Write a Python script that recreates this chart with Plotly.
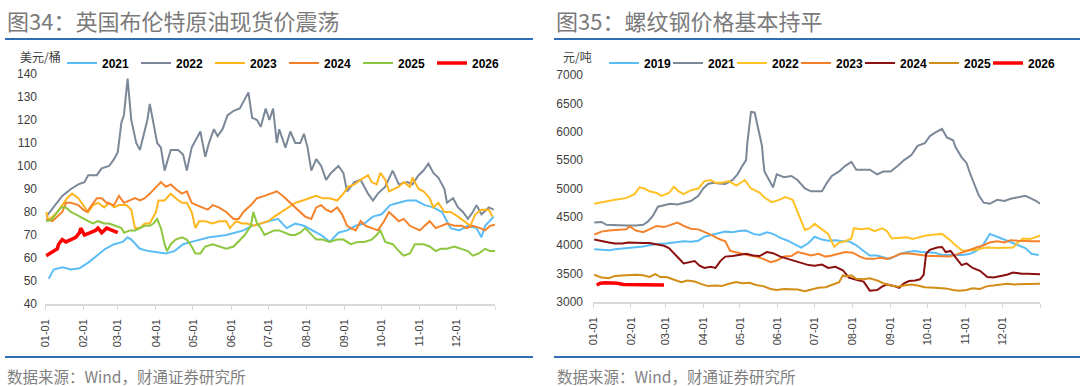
import plotly.graph_objects as go

W, H = 1080, 386

# ---------------- data ----------------
MONTH_TICKS = [0, 31, 59, 90, 120, 151, 181, 212, 243, 273, 304, 334, 365]
MONTH_LABELS = ["01-01", "02-01", "03-01", "04-01", "05-01", "06-01", "07-01",
                "08-01", "09-01", "10-01", "11-01", "12-01", ""]

# Brent spot, USD/bbl: (day of year, value)
BRENT_2021 = [(3,51),(7,55),(14,56),(21,55),(28,55.5),(35,58),(42,61),(49,64),(56,66),(63,67),(67,69),(70,68),
              (77,64),(84,63),(91,62.5),(98,62),(105,63),(112,66),(119,67),(126,68),(133,69),(140,69.5),(147,70),
              (154,71),(161,72),(168,74),(175,75),(182,76),(189,77),(196,73),(203,75),(210,74),(217,72),(224,70),
              (231,67),(238,71),(245,72),(252,74),(259,75),(266,78),(273,79),(280,83),(287,84),(294,85),(301,85),
              (308,83),(315,82),(322,80),(329,73),(336,72),(343,74),(350,73),(354,69),(357,74),(364,78)]
BRENT_2022 = [(1,78),(7,82),(14,87),(21,90),(27,92),(32,93),(35,96),(42,96),(46,99),(52,100),(56,103),(59,106),
              (62,119),(64,122),(67,138),(70,120),(74,110),(77,107),(80,114),(83,120),(85,127),(88,118),(91,110),
              (94,108),(97,98),(102,107),(108,107),(112,105),(115,98),(119,108),(126,115),(130,104),(133,110),
              (137,116),(140,113),(144,116),(148,122),(153,124),(158,125),(161,128),(165,132),(168,121),(172,120),
              (175,117),(179,125),(182,120),(185,125),(188,110),(190,116),(195,108),(199,115),(203,110),(207,110),
              (210,114),(213,108),(216,98),(220,103),(224,100),(228,94),(232,97),(238,100),(242,97),(245,89),
              (251,93),(256,94),(262,88),(266,85),(270,88),(276,91),(282,98),(287,92),(294,93),(298,92),(303,96),
              (307,98),(311,101),(315,97),(319,95),(324,90),(326,84),(331,86),(335,82),(339,80),(343,77),(347,80),
              (350,83),(354,79),(360,82),(364,81)]
BRENT_2023 = [(1,80),(3,76),(4,77),(10,80),(14,83),(18,86),(22,88),(27,86),(31,83),(35,80),(39,83),(43,84),(48,82),
              (52,84),(56,82),(60,83),(66,83),(70,81),(73,73),(77,73),(81,75),(85,75),(90,80),(92,85),(97,85),
              (102,88),(106,86),(111,84),(115,84),(119,80),(122,73),(125,76),(130,76),(136,75),(141,76),(147,76),
              (150,73),(155,76),(160,75),(164,75),(169,74),(175,75),(181,76),(186,78),(192,80),(197,82),(203,84),
              (209,85),(214,86),(220,87),(225,86),(231,86),(237,85),(242,88),(246,91),(251,92),(256,94),(262,96),
              (265,93),(269,92),(272,97),(276,94),(279,89),(283,90),(287,91),(291,93),(296,91),(298,95),(303,90),
              (307,89),(312,86),(315,82),(319,84),(324,80),(329,80),(335,78),(340,76),(345,74),(349,79),(354,81),
              (360,81),(363,78)]
BRENT_2024 = [(1,77),(6,76),(10,78),(14,80),(17,84),(21,84),(27,83),(31,81),(34,80),(38,83),(42,86),(46,86),(50,84),
              (56,83),(60,87),(64,84),(69,85),(73,86),(77,85),(81,86),(85,88),(90,91),(94,93),(98,91),(102,92),
              (106,90),(111,88),(115,89),(119,84),(123,83),(127,82),(132,81),(136,83),(141,82),(147,80),(153,77),
              (157,77),(161,80),(167,83),(172,86),(178,87),(183,88),(188,89),(193,87),(199,84),(203,82),(207,80),
              (211,78),(216,77),(220,82),(224,83),(228,81),(232,80),(237,82),(241,79),(245,74),(248,73),(252,72),
              (256,76),(260,74),(265,73),(270,72),(275,76),(279,80),(283,78),(287,76),(291,77),(296,74),(300,73),
              (304,72),(308,74),(312,76),(317,73),(321,74),(326,75),(332,74),(338,74),(342,73),(347,74),(353,73),
              (357,72),(361,74),(365,74.5)]
BRENT_2025 = [(1,76),(6,77),(10,80),(13,82),(17,82),(21,80),(25,79),(31,77),(35,76),(39,75),(43,76),(48,75),(52,75),
              (57,74),(62,73),(64,71),(69,72),(73,72),(77,73),(81,74),(85,74),(88,75),(91,77),(94,73),(97,66),
              (99,63),(102,66),(106,68),(111,69),(115,68),(119,65),(122,62),(126,62),(130,65),(136,66),(141,65),
              (147,64),(153,65),(158,68),(162,70),(167,74),(169,80),(172,75),(175,73),(178,70),(182,71),(186,72),
              (190,72),(195,71),(199,70),(203,70),(207,71),(211,73),(216,70),(220,68),(225,68),(231,67),(237,68),
              (242,68),(248,66),(254,67),(259,67),(265,68),(269,70),(272,72),(276,67),(282,66),(287,63),(291,61),
              (296,62),(300,66),(303,66),(307,66),(312,65),(317,63),(321,64),(326,64),(332,65),(338,64),(343,63),
              (347,61),(352,62),(357,64),(361,63),(365,63)]
BRENT_2026 = [(1,61),(4,62),(7,63),(10,64),(11,66),(14,68),(17,67),(21,68),(25,69),(28,71),(29,73),(32,70),(36,71),
              (41,72),(43,73),(46,71),(50,73),(55,72),(59,71)]

# Rebar price, CNY/t: (day of year, value)
STEEL_2019 = [(1,3930),(7,3920),(13,3910),(18,3930),(27,3950),(35,3960),(41,3980),(46,4000),(52,4020),(60,4030),
              (69,4050),(74,4070),(80,4060),(86,4080),(91,4150),(97,4180),(103,4220),(108,4240),(114,4230),
              (119,4250),(125,4260),(131,4200),(136,4180),(142,4230),(147,4200),(153,4130),(159,4080),(164,4020),
              (170,3960),(176,4040),(181,4150),(187,4100),(192,4080),(198,4090),(204,4070),(209,4070),(215,4000),
              (221,3900),(226,3820),(232,3820),(237,3790),(242,3760),(246,3800),(251,3850),(257,3880),(263,3900),
              (268,3880),(274,3880),(279,3870),(285,3830),(291,3830),(296,3820),(302,3830),(308,3850),(313,3900),
              (319,4020),(322,4140),(324,4200),(330,4150),(336,4100),(341,4050),(347,4000),(353,3950),(358,3850),
              (364,3830)]
STEEL_2021 = [(1,4400),(7,4410),(11,4360),(18,4350),(27,4350),(35,4350),(41,4360),(45,4420),(49,4520),(53,4680),
              (58,4700),(63,4730),(69,4720),(74,4750),(80,4780),(86,4870),(90,5000),(94,5080),(98,5100),(103,5090),
              (108,5080),(114,5150),(118,5250),(122,5400),(125,5500),(126,5800),(129,6350),(132,6340),(135,6050),
              (138,5750),(139,5500),(140,5300),(145,5100),(147,5020),(150,5250),(156,5200),(162,5220),(167,5150),
              (173,5000),(178,4950),(184,4950),(187,4950),(191,5100),(195,5220),(201,5300),(206,5400),(211,5470),
              (215,5330),(221,5330),(226,5330),(232,5250),(237,5300),(243,5300),(249,5400),(254,5500),(260,5590),
              (265,5750),(271,5800),(275,5920),(279,5980),(285,6050),(289,5900),(294,5850),(296,5730),(301,5550),
              (305,5450),(308,5260),(312,5030),(315,4880),(319,4750),(324,4730),(330,4800),(336,4780),(341,4820),
              (347,4850),(353,4870),(358,4820),(362,4780),(365,4730)]
STEEL_2022 = [(1,4730),(10,4770),(18,4800),(27,4830),(34,4900),(38,5020),(42,5000),(46,4950),(52,4920),(56,4870),
              (62,4920),(66,5030),(70,4950),(74,4900),(80,4970),(86,5000),(91,5130),(96,5150),(100,5100),(105,5100),
              (111,5130),(117,5050),(124,5150),(129,5000),(136,4930),(140,4840),(146,4760),(152,4800),(157,4850),
              (163,4800),(169,4500),(173,4270),(177,4300),(181,4380),(187,4280),(192,4200),(197,3970),(201,4050),
              (206,4070),(211,4120),(213,4300),(219,4280),(225,4300),(230,4250),(236,4300),(240,4250),(244,4120),
              (250,4130),(256,4140),(261,4110),(267,4150),(272,4170),(279,4190),(285,4200),(291,4100),(296,4000),
              (302,3900),(308,3910),(313,3920),(319,3950),(323,3960),(330,3950),(337,3950),(343,3960),(347,4050),
              (351,4120),(357,4110),(360,4130),(365,4170)]
STEEL_2023 = [(1,4190),(7,4240),(13,4260),(21,4270),(27,4280),(30,4330),(35,4260),(41,4230),(46,4280),(52,4340),
              (58,4320),(63,4360),(69,4400),(74,4340),(80,4290),(86,4280),(91,4240),(97,4180),(103,4110),(108,4070),
              (112,3900),(117,3870),(122,3850),(128,3820),(133,3800),(139,3760),(145,3700),(150,3730),(156,3800),
              (162,3810),(167,3880),(173,3850),(178,3820),(184,3850),(190,3800),(195,3820),(201,3850),(206,3880),
              (212,3870),(218,3800),(223,3760),(229,3760),(235,3780),(240,3760),(246,3800),(251,3850),(257,3860),
              (263,3840),(268,3820),(274,3810),(279,3810),(285,3800),(291,3800),(296,3830),(302,3870),(308,3920),
              (313,3960),(319,4000),(324,4050),(330,4070),(336,4050),(341,4090),(347,4080),(353,4070),(358,4070),
              (365,4070)]
STEEL_2024 = [(1,4100),(7,4070),(13,4050),(18,4030),(24,4030),(29,4050),(35,4040),(41,4040),(46,4040),(52,4020),
              (58,3990),(62,3950),(66,3850),(70,3770),(74,3680),(79,3700),(83,3720),(87,3640),(91,3600),(96,3620),
              (100,3600),(104,3720),(108,3800),(114,3810),(119,3830),(125,3850),(131,3820),(136,3810),(142,3880),
              (147,3860),(153,3800),(159,3760),(164,3720),(170,3690),(176,3650),(181,3640),(187,3660),(192,3600),
              (198,3620),(204,3560),(209,3430),(215,3390),(221,3360),(226,3200),(232,3210),(236,3270),(240,3310),
              (246,3280),(250,3250),(254,3330),(258,3370),(263,3380),(267,3400),(270,3480),(272,3850),(275,3920),
              (281,3960),(285,3970),(288,3880),(292,3900),(296,3780),(301,3650),(305,3680),(310,3600),(316,3550),
              (322,3440),(327,3430),(333,3460),(338,3480),(343,3520),(350,3500),(355,3500),(360,3490),(365,3490)]
STEEL_2025 = [(1,3480),(7,3430),(13,3420),(18,3460),(27,3470),(35,3480),(41,3470),(46,3440),(51,3490),(55,3440),
              (60,3440),(66,3390),(72,3350),(77,3380),(83,3360),(88,3320),(94,3280),(100,3290),(105,3280),(111,3320),
              (117,3350),(122,3330),(128,3340),(133,3300),(139,3280),(145,3230),(150,3210),(156,3230),(162,3220),
              (167,3220),(173,3190),(178,3220),(184,3250),(190,3260),(195,3300),(201,3350),(204,3470),(206,3450),
              (211,3470),(215,3410),(221,3400),(226,3420),(232,3380),(237,3330),(243,3290),(249,3270),(254,3290),
              (260,3310),(265,3290),(271,3260),(279,3250),(288,3240),(294,3210),(299,3200),(305,3210),(310,3240),
              (316,3230),(322,3280),(327,3290),(333,3300),(338,3320),(344,3310),(350,3310),(355,3320),(360,3320),
              (365,3320)]
STEEL_2026 = [(3,3300),(6,3330),(10,3340),(15,3340),(20,3330),(25,3310),(31,3310),(38,3300),(46,3300),(58,3300)]

BRENT_NAMES = ["2021", "2022", "2023", "2024", "2025", "2026"]
BRENT_SERIES = [BRENT_2021, BRENT_2022, BRENT_2023, BRENT_2024, BRENT_2025, BRENT_2026]
BRENT_COLORS = ["#5BBDF5", "#7B8898", "#FFB61E", "#F5822A", "#8DC63F", "#FF0000"]

STEEL_NAMES = ["2019", "2021", "2022", "2023", "2024", "2025", "2026"]
STEEL_SERIES = [STEEL_2019, STEEL_2021, STEEL_2022, STEEL_2023, STEEL_2024, STEEL_2025, STEEL_2026]
STEEL_COLORS = ["#5BBDF5", "#7B8898", "#FFC125", "#F5822A", "#8B1010", "#D38D17", "#FF0000"]

TITLE_L = "图34：英国布伦特原油现货价震荡"
TITLE_R = "图35：螺纹钢价格基本持平"
UNIT_L = "美元/桶"
UNIT_R = "元/吨"
SOURCE = "数据来源：Wind，财通证券研究所"

# ---------------- figure ----------------
LATIN = "Liberation Sans, Arial, Noto Sans CJK SC, sans-serif"
CJK = "Noto Sans CJK SC, sans-serif"

fig = go.Figure()

def px_x(p):
    return p / W

def px_y(p):
    return 1 - p / H

for name, pts, col in zip(BRENT_NAMES, BRENT_SERIES, BRENT_COLORS):
    fig.add_trace(go.Scatter(
        x=[p[0] for p in pts], y=[p[1] for p in pts], mode="lines", name=name,
        line=dict(color=col, width=3.5 if name == "2026" else 2),
        xaxis="x", yaxis="y", legend="legend", hoverinfo="skip"))

for i, (name, pts, col) in enumerate(zip(STEEL_NAMES, STEEL_SERIES, STEEL_COLORS)):
    extra = {"legendwidth": 40} if i == len(STEEL_NAMES) - 1 else {}
    fig.add_trace(go.Scatter(
        x=[p[0] for p in pts], y=[p[1] for p in pts], mode="lines", name=name,
        line=dict(color=col, width=3.5 if name == "2026" else 2),
        xaxis="x2", yaxis="y2", legend="legend2", hoverinfo="skip", **extra))

xcommon = dict(
    range=[0, 365], tickmode="array", tickvals=MONTH_TICKS, ticktext=MONTH_LABELS,
    tickangle=-90, showgrid=False, zeroline=False, showline=True, linecolor="#D9D9D9",
    linewidth=1.5, ticks="outside", ticklen=4, tickcolor="#D9D9D9", tickwidth=1,
    tickfont=dict(family=LATIN, size=11, color="#404040"), ticklabelstandoff=5,
    fixedrange=True, automargin=False,
)
ycommon = dict(showgrid=False, zeroline=False, showline=False, ticks="",
               tickfont=dict(family=LATIN, size=12, color="#404040"), fixedrange=True,
               automargin=False)

fig.update_layout(
    width=W, height=H, margin=dict(l=0, r=0, t=0, b=0, autoexpand=False),
    paper_bgcolor="white", plot_bgcolor="white",
    xaxis=dict(domain=[px_x(45), px_x(495)], anchor="y", **xcommon),
    yaxis=dict(domain=[px_y(304), px_y(74)], anchor="x", range=[40, 140], dtick=10,
               ticklabelstandoff=7, **ycommon),
    xaxis2=dict(domain=[px_x(593), px_x(1040)], anchor="y2", **xcommon),
    yaxis2=dict(domain=[px_y(302), px_y(75)], anchor="x2", range=[3000, 7000], dtick=500,
                ticklabelstandoff=9, **ycommon),
    legend=dict(orientation="h", x=px_x(62), xanchor="left", y=px_y(63), yanchor="middle",
                font=dict(family=LATIN, size=12, color="#000000", weight="bold"),
                bgcolor="rgba(0,0,0,0)", entrywidth=29, entrywidthmode="pixels",
                itemwidth=30, tracegroupgap=0, itemclick=False, itemdoubleclick=False),
    legend2=dict(orientation="h", x=px_x(604), xanchor="left", y=px_y(63), yanchor="middle",
                 font=dict(family=LATIN, size=12, color="#000000", weight="bold"),
                 bgcolor="rgba(0,0,0,0)", entrywidth=19, entrywidthmode="pixels",
                 itemwidth=30, tracegroupgap=0, itemclick=False, itemdoubleclick=False),
    showlegend=True,
)

ann = [
    dict(text=TITLE_L, x=px_x(5), y=px_y(20), xanchor="left", yanchor="middle",
         font=dict(family=CJK, size=22, color="#7A7A7A")),
    dict(text=TITLE_R, x=px_x(554), y=px_y(20), xanchor="left", yanchor="middle",
         font=dict(family=CJK, size=22, color="#7A7A7A")),
    dict(text=UNIT_L, x=px_x(18), y=px_y(57), xanchor="left", yanchor="middle",
         font=dict(family=CJK, size=12, color="#404040")),
    dict(text=UNIT_R, x=px_x(561), y=px_y(57), xanchor="left", yanchor="middle",
         font=dict(family=CJK, size=12, color="#404040")),
    dict(text=SOURCE, x=px_x(5), y=px_y(376), xanchor="left", yanchor="middle",
         font=dict(family=CJK, size=15.5, color="#7F7F7F")),
    dict(text=SOURCE, x=px_x(555), y=px_y(376), xanchor="left", yanchor="middle",
         font=dict(family=CJK, size=15.5, color="#7F7F7F")),
]
for a in ann:
    a.update(xref="paper", yref="paper", showarrow=False)
fig.update_layout(annotations=ann)

RULE = "#2F6DB5"
shapes = []
for (x0, x1) in [(5, 533), (554, 1080)]:
    for yy in (39, 357):
        shapes.append(dict(type="line", xref="paper", yref="paper",
                           x0=px_x(x0), x1=px_x(x1), y0=px_y(yy), y1=px_y(yy),
                           line=dict(color=RULE, width=2)))
fig.update_layout(shapes=shapes)

fig.write_html("out.html", config={"displayModeBar": False},
               post_script="document.body.style.margin='0px';document.body.style.overflow='hidden';")
